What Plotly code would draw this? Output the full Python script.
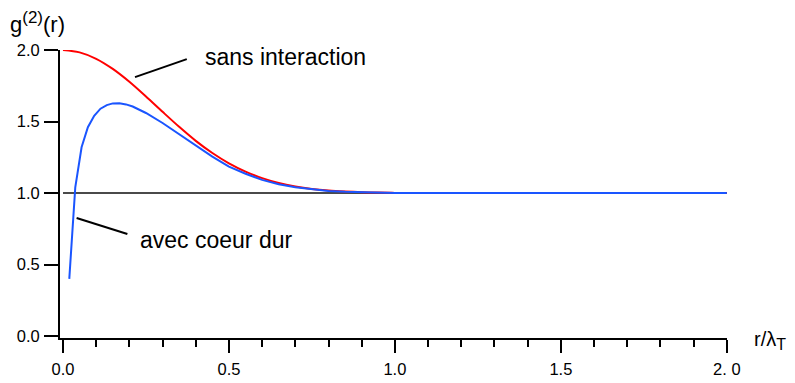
import plotly.graph_objects as go

# ---- data ----
r_free = [0.0, 0.05, 0.10, 0.15, 0.20, 0.25, 0.30, 0.35, 0.40, 0.45, 0.50, 0.55,
          0.60, 0.65, 0.70, 0.75, 0.80, 0.85, 0.90, 0.95, 1.00, 1.20, 1.40, 1.60, 1.80, 2.00]
g_free = [2.000, 1.984, 1.939, 1.868, 1.778, 1.675, 1.568, 1.463, 1.365, 1.280, 1.208, 1.150,
          1.104, 1.070, 1.046, 1.029, 1.018, 1.011, 1.006, 1.003, 1.001, 1.000, 1.000, 1.000, 1.000, 1.000]

r_hard = [0.019, 0.037, 0.056, 0.075, 0.094, 0.113, 0.132, 0.150, 0.170, 0.190, 0.210, 0.25,
          0.30, 0.35, 0.40, 0.45, 0.50, 0.55, 0.60, 0.65, 0.70, 0.75, 0.80, 0.85, 0.90,
          0.95, 1.00, 1.20, 1.40, 1.60, 1.80, 2.00]
g_hard = [0.40, 1.04, 1.32, 1.46, 1.54, 1.59, 1.615, 1.627, 1.628, 1.620, 1.605, 1.56,
          1.49, 1.41, 1.33, 1.255, 1.185, 1.135, 1.092, 1.062, 1.040, 1.025, 1.015, 1.009, 1.005,
          1.003, 1.001, 1.000, 1.000, 1.000, 1.000, 1.000]

ref_x = [0.0, 2.0]
ref_y = [1.0, 1.0]

x_tickvals = [0.0, 0.5, 1.0, 1.5, 2.0]
x_ticktext = ["0.0", "0.5", "1.0", "1.5", "2. 0"]
x_minorvals = [0.1, 0.2, 0.3, 0.4, 0.6, 0.7, 0.8, 0.9, 1.1, 1.2, 1.3, 1.4, 1.6, 1.7, 1.8, 1.9]
y_tickvals = [0.0, 0.5, 1.0, 1.5, 2.0]
y_ticktext = ["0.0", "0.5", "1.0", "1.5", "2.0"]

FONT = "Liberation Sans, Arial, Helvetica, sans-serif"

fig = go.Figure()
fig.add_trace(go.Scatter(x=ref_x, y=ref_y, mode="lines",
                         line=dict(color="#4a4a4a", width=2), hoverinfo="skip"))
fig.add_trace(go.Scatter(x=r_free, y=g_free, mode="lines",
                         line=dict(color="#ff0000", width=2, shape="spline", smoothing=0.8)))
fig.add_trace(go.Scatter(x=r_hard, y=g_hard, mode="lines",
                         line=dict(color="#1a55ff", width=2)))

# leader lines
fig.add_shape(type="line", xref="x", yref="y", x0=0.217, y0=1.811, x1=0.373, y1=1.937,
              line=dict(color="black", width=2))
fig.add_shape(type="line", xref="x", yref="y", x0=0.041, y0=0.825, x1=0.194, y1=0.713,
              line=dict(color="black", width=2))

fig.add_annotation(x=0.422, y=1.951, xref="x", yref="y", text="sans interaction",
                   showarrow=False, xanchor="left", yanchor="middle",
                   font=dict(family=FONT, size=23, color="black"))
fig.add_annotation(x=0.226, y=0.671, xref="x", yref="y", text="avec coeur dur",
                   showarrow=False, xanchor="left", yanchor="middle",
                   font=dict(family=FONT, size=23, color="black"))

fig.add_annotation(x=-0.078, y=1.097, xref="paper", yref="paper",
                   text="g<sup><span style='font-size:17px'>(2)</span></sup>(r)",
                   showarrow=False, xanchor="left", yanchor="middle",
                   font=dict(family=FONT, size=22, color="black"))
fig.add_annotation(x=1.0375, y=-0.007, xref="paper", yref="paper",
                   text="r/λ<sub><span style='font-size:16px'>T</span></sub>",
                   showarrow=False, xanchor="left", yanchor="middle",
                   font=dict(family=FONT, size=20, color="black"))

fig.update_layout(
    width=795, height=383,
    margin=dict(l=60, r=68, t=50, b=45),
    paper_bgcolor="white", plot_bgcolor="white",
    showlegend=False,
    font=dict(family=FONT, size=16.5, color="black"),
    xaxis=dict(range=[-0.009, 2.0005], showgrid=False, zeroline=False,
               showline=True, linecolor="black", linewidth=2,
               ticks="outside", ticklen=13, tickwidth=2, tickcolor="black",
               tickmode="array", tickvals=x_tickvals, ticktext=x_ticktext,
               minor=dict(tickmode="array", tickvals=x_minorvals, ticks="outside",
                          ticklen=7, tickwidth=2, tickcolor="black", showgrid=False),
               ticklabelstandoff=2, automargin=False),
    yaxis=dict(range=[-0.014, 2.0005], showgrid=False, zeroline=False,
               showline=True, linecolor="black", linewidth=2,
               ticks="outside", ticklen=14, tickwidth=2, tickcolor="black",
               tickmode="array", tickvals=y_tickvals, ticktext=y_ticktext,
               ticklabelstandoff=1, automargin=False),
)

fig.write_html("out.html", config={"displayModeBar": False},
               post_script="document.body.style.margin='0px';document.body.style.overflow='hidden';")
